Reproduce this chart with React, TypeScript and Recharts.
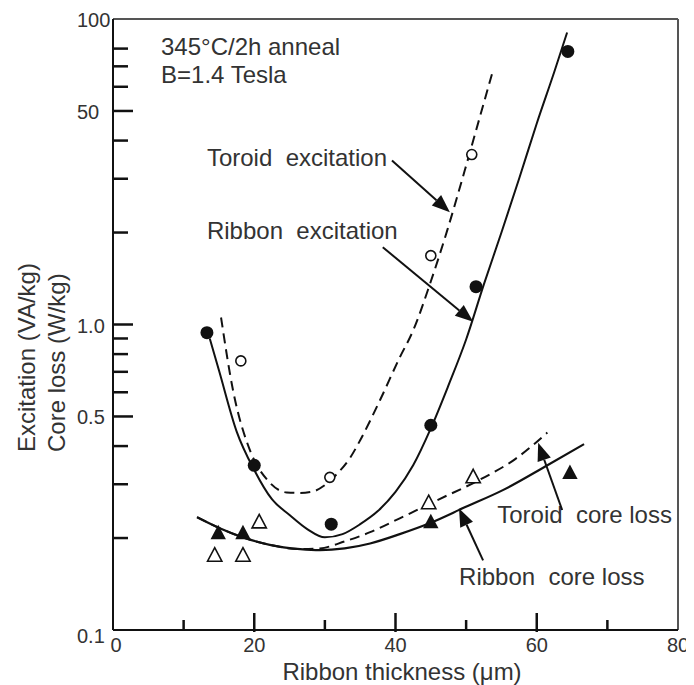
import React from 'react';
import { ComposedChart, Line, Scatter, XAxis, YAxis, Customized } from 'recharts';

// measured points
const ribbonExcitation = [
  { x: 13.3, y: 0.94 },
  { x: 20.0, y: 0.346 },
  { x: 30.9, y: 0.222 },
  { x: 45.0, y: 0.468 },
  { x: 51.4, y: 1.33 },
  { x: 64.4, y: 7.83 },
];
const toroidExcitation = [
  { x: 18.1, y: 0.76 },
  { x: 30.7, y: 0.316 },
  { x: 45.0, y: 1.68 },
  { x: 50.8, y: 3.6 },
];
const ribbonCoreLoss = [
  { x: 14.9, y: 0.207 },
  { x: 18.4, y: 0.207 },
  { x: 45.0, y: 0.225 },
  { x: 64.7, y: 0.326 },
];
const toroidCoreLoss = [
  { x: 14.4, y: 0.175 },
  { x: 18.4, y: 0.175 },
  { x: 20.7, y: 0.225 },
  { x: 44.7, y: 0.26 },
  { x: 51.0, y: 0.316 },
];

// hand-fitted trend curves
const ribbonExcitationFit = [
  { x: 13.7, y: 0.9 },
  { x: 15.0, y: 0.708 },
  { x: 17.5, y: 0.447 },
  { x: 20.0, y: 0.334 },
  { x: 22.5, y: 0.268 },
  { x: 25.0, y: 0.238 },
  { x: 27.5, y: 0.214 },
  { x: 30.0, y: 0.201 },
  { x: 32.5, y: 0.206 },
  { x: 35.0, y: 0.222 },
  { x: 37.5, y: 0.245 },
  { x: 40.0, y: 0.283 },
  { x: 42.5, y: 0.346 },
  { x: 45.0, y: 0.457 },
  { x: 47.5, y: 0.632 },
  { x: 50.0, y: 0.893 },
  { x: 52.5, y: 1.35 },
  { x: 55.0, y: 2.0 },
  { x: 57.5, y: 3.0 },
  { x: 60.0, y: 4.55 },
  { x: 62.5, y: 6.73 },
  { x: 64.3, y: 9.03 },
];
const toroidExcitationFit = [
  { x: 15.3, y: 1.054 },
  { x: 17.0, y: 0.608 },
  { x: 19.4, y: 0.387 },
  { x: 21.9, y: 0.309 },
  { x: 24.6, y: 0.282 },
  { x: 26.5, y: 0.281 },
  { x: 28.3, y: 0.284 },
  { x: 30.0, y: 0.298 },
  { x: 31.7, y: 0.324 },
  { x: 33.6, y: 0.367 },
  { x: 35.0, y: 0.418 },
  { x: 37.8, y: 0.565 },
  { x: 40.6, y: 0.78 },
  { x: 42.5, y: 0.956 },
  { x: 44.9, y: 1.362 },
  { x: 47.4, y: 2.06 },
  { x: 49.8, y: 3.19 },
  { x: 52.0, y: 4.83 },
  { x: 53.8, y: 6.78 },
];
const ribbonCoreLossFit = [
  { x: 11.9, y: 0.234 },
  { x: 15.2, y: 0.215 },
  { x: 18.4, y: 0.201 },
  { x: 22.2, y: 0.19 },
  { x: 26.5, y: 0.184 },
  { x: 29.3, y: 0.1825 },
  { x: 32.8, y: 0.185 },
  { x: 36.4, y: 0.192 },
  { x: 40.6, y: 0.206 },
  { x: 44.9, y: 0.224 },
  { x: 49.8, y: 0.252 },
  { x: 55.2, y: 0.287 },
  { x: 61.2, y: 0.343 },
  { x: 66.7, y: 0.406 },
];
const toroidCoreLossFit = [
  { x: 11.9, y: 0.234 },
  { x: 15.2, y: 0.215 },
  { x: 18.4, y: 0.201 },
  { x: 22.2, y: 0.19 },
  { x: 26.5, y: 0.184 },
  { x: 29.3, y: 0.185 },
  { x: 32.8, y: 0.195 },
  { x: 36.4, y: 0.209 },
  { x: 40.6, y: 0.232 },
  { x: 45.9, y: 0.266 },
  { x: 52.0, y: 0.311 },
  { x: 56.9, y: 0.362 },
  { x: 61.5, y: 0.443 },
];

const xTicks = [0, 10, 20, 30, 40, 50, 60, 70, 80];
const xMajorTicks = [20, 40, 60];
const xLabelTicks = [0, 20, 40, 60, 80];

const yTicks = [0.1, 0.2, 0.3, 0.4, 0.5, 0.6, 0.7, 0.8, 0.9, 1, 2, 3, 4, 5, 6, 7, 8, 10];
const yMajorTicks = [0.1, 0.5, 1, 5, 10];
const yMajorLabels = ['0.1', '0.5', '1.0', '50', '100'];

const notes = [
  { text: '345°C/2h anneal', x: 6.8, y: 7.6 },
  { text: 'B=1.4 Tesla', x: 6.8, y: 6.15 },
  { text: 'Toroid  excitation', x: 13.3, y: 3.31 },
  { text: 'Ribbon  excitation', x: 13.3, y: 1.9 },
  { text: 'Toroid  core loss', x: 54.4, y: 0.224 },
  { text: 'Ribbon  core loss', x: 49.0, y: 0.14 },
];

const arrows = [
  { from: [39.5, 3.44], to: [47.7, 2.33] },
  { from: [38.2, 1.79], to: [51.0, 1.02] },
  { from: [63.6, 0.247], to: [60.2, 0.41] },
  { from: [52.4, 0.169], to: [49.0, 0.25] },
];

const W = 686;
const H = 677;
const PLOT_LEFT = 105;
const PLOT_TOP = 11;
const PLOT_W = 565;
const PLOT_H = 611;

const FONT = 'Arial, "Liberation Sans", sans-serif';
const INK = '#111';
const TEXT = '#333';

const toPx = (x: number) => PLOT_LEFT + (x / 80) * PLOT_W;
const toPy = (v: number) => PLOT_TOP + (1 - (Math.log10(v) + 1) / 2) * PLOT_H;

const YTick = (props: any) => {
  const { x, y, payload } = props;
  const v = payload.value;
  const idx = yMajorTicks.indexOf(v);
  const major = idx >= 0;
  const len = major ? 20 : 15;
  return (
    <g>
      {v !== 10 && v !== 0.1 && (
        <line x1={x} x2={x + len} y1={y} y2={y} stroke={INK} strokeWidth={2.5} />
      )}
      {major && (
        <text x={x - 36} y={v === 0.1 ? y + 13 : y + 8} fontSize={20} fill={TEXT} fontFamily={FONT}>
          {yMajorLabels[idx]}
        </text>
      )}
    </g>
  );
};

const XTick = (props: any) => {
  const { x, y, payload } = props;
  const v = payload.value;
  const major = xMajorTicks.includes(v);
  const showLabel = xLabelTicks.includes(v);
  const isEdge = v === 0 || v === 80;
  return (
    <g>
      {!isEdge && (
        <line
          x1={x}
          x2={x}
          y1={major ? y + 2 : y + 1}
          y2={major ? y - 17 : y - 10}
          stroke={INK}
          strokeWidth={2.5}
        />
      )}
      {showLabel && (
        <text x={v === 0 ? x + 3 : x} y={y + 22} textAnchor="middle" fontSize={20} fill={TEXT} fontFamily={FONT}>
          {v}
        </text>
      )}
    </g>
  );
};

const dotShape = (props: any) => <circle cx={props.cx} cy={props.cy} r={6.5} fill={INK} />;
const ringShape = (props: any) => (
  <circle cx={props.cx} cy={props.cy} r={5} fill="#fff" stroke={INK} strokeWidth={1.6} />
);
const triPath = (cx: number, cy: number, s: number) =>
  `M${cx},${cy - s * 0.62} L${cx + s * 0.55},${cy + s * 0.42} L${cx - s * 0.55},${cy + s * 0.42} Z`;
const filledTriShape = (props: any) => <path d={triPath(props.cx, props.cy, 14)} fill={INK} />;
const openTriShape = (props: any) => (
  <path d={triPath(props.cx, props.cy, 13)} fill="#fff" stroke={INK} strokeWidth={1.6} />
);

const Arrow = ({ from, to }: { from: number[]; to: number[] }) => {
  const x1 = toPx(from[0]);
  const y1 = toPy(from[1]);
  const x2 = toPx(to[0]);
  const y2 = toPy(to[1]);
  const dx = x2 - x1;
  const dy = y2 - y1;
  const d = Math.hypot(dx, dy);
  const ux = dx / d;
  const uy = dy / d;
  const headLen = 18;
  const headHalf = 7;
  const bx = x2 - ux * headLen;
  const by = y2 - uy * headLen;
  return (
    <g>
      <line x1={x1} y1={y1} x2={bx} y2={by} stroke={INK} strokeWidth={2} />
      <path
        d={`M${x2},${y2} L${bx - uy * headHalf},${by + ux * headHalf} L${bx + uy * headHalf},${by - ux * headHalf} Z`}
        fill={INK}
      />
    </g>
  );
};

const Overlay = () => (
  <g>
    {/* frame top and right */}
    <line x1={PLOT_LEFT} x2={PLOT_LEFT + PLOT_W} y1={PLOT_TOP} y2={PLOT_TOP} stroke="#555" strokeWidth={2} />
    <line x1={PLOT_LEFT + PLOT_W} x2={PLOT_LEFT + PLOT_W} y1={PLOT_TOP} y2={PLOT_TOP + PLOT_H} stroke="#555" strokeWidth={2} />
    {notes.map((n) => (
      <text
        key={n.text}
        x={toPx(n.x)}
        y={toPy(n.y)}
        fontSize={24}
        fill={TEXT}
        fontFamily={FONT}
        style={{ whiteSpace: 'pre' }}
      >
        {n.text}
      </text>
    ))}
    {arrows.map((a, i) => (
      <Arrow key={i} from={a.from} to={a.to} />
    ))}
    {/* axis titles */}
    <text transform="translate(27,444) rotate(-90)" fontSize={24} fill={TEXT} fontFamily={FONT}>
      Excitation (VA/kg)
    </text>
    <text transform="translate(57,444) rotate(-90)" fontSize={24} fill={TEXT} fontFamily={FONT}>
      Core loss (W/kg)
    </text>
    <text x={394} y={672} textAnchor="middle" fontSize={24} fill={TEXT} fontFamily={FONT}>
      Ribbon thickness (μm)
    </text>
  </g>
);

export default function App() {
  return (
    <div style={{ width: W, height: H, background: '#fff' }}>
      <ComposedChart width={W} height={H} margin={{ top: PLOT_TOP, right: 16, bottom: 15, left: 45 }}>
        <XAxis
          type="number"
          dataKey="x"
          domain={[0, 80]}
          ticks={xTicks}
          interval={0}
          height={40}
          tickSize={0}
          tickMargin={0}
          tick={<XTick />}
          axisLine={{ stroke: INK, strokeWidth: 2 }}
          tickLine={false}
        />
        <YAxis
          type="number"
          dataKey="y"
          scale="log"
          domain={[0.1, 10]}
          allowDataOverflow
          ticks={yTicks}
          interval={0}
          width={60}
          tickSize={0}
          tickMargin={0}
          tick={<YTick />}
          axisLine={{ stroke: INK, strokeWidth: 2 }}
          tickLine={false}
        />
        <Line data={ribbonExcitationFit} dataKey="y" type="monotone" stroke={INK} strokeWidth={2} dot={false} isAnimationActive={false} />
        <Line data={toroidExcitationFit} dataKey="y" type="monotone" stroke={INK} strokeWidth={2} strokeDasharray="10 6" dot={false} isAnimationActive={false} />
        <Line data={ribbonCoreLossFit} dataKey="y" type="monotone" stroke={INK} strokeWidth={2.2} dot={false} isAnimationActive={false} />
        <Line data={toroidCoreLossFit} dataKey="y" type="monotone" stroke={INK} strokeWidth={2} strokeDasharray="10 6" dot={false} isAnimationActive={false} />
        <Scatter data={ribbonExcitation} dataKey="y" shape={dotShape} isAnimationActive={false} />
        <Scatter data={toroidExcitation} dataKey="y" shape={ringShape} isAnimationActive={false} />
        <Scatter data={ribbonCoreLoss} dataKey="y" shape={filledTriShape} isAnimationActive={false} />
        <Scatter data={toroidCoreLoss} dataKey="y" shape={openTriShape} isAnimationActive={false} />
        <Customized component={<Overlay />} />
      </ComposedChart>
    </div>
  );
}
